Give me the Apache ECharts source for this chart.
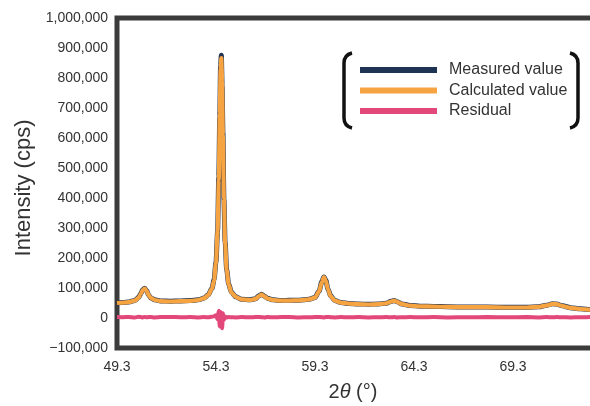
<!DOCTYPE html>
<html>
<head>
<meta charset="utf-8">
<script src="https://cdn.jsdelivr.net/npm/echarts@6/dist/echarts.min.js"></script>
<style>
  html, body { margin: 0; padding: 0; background: #ffffff; }
  #chart { width: 590px; height: 406px; }
</style>
</head>
<body>
<div id="chart"></div>
<script>
// ---- data ----
const seriesNames = ['Measured value', 'Calculated value', 'Residual'];
const xTicks = [49.3, 54.3, 59.3, 64.3, 69.3];

const twoTheta = [49.3,49.6,49.9,50.2,50.4,50.5,50.6,50.7,50.8,50.9,51.0,51.2,51.5,52.0,52.5,53.0,53.4,53.7,53.9,54.1,
  54.2,54.3,54.38,54.44,54.49,54.53,54.57,54.61,54.65,54.7,54.76,54.84,54.94,55.08,55.3,55.6,56.0,56.3,56.45,56.6,
  56.75,56.9,57.2,57.6,58.0,58.5,59.0,59.3,59.5,59.65,59.75,59.85,59.95,60.1,60.3,60.6,61.0,61.5,62.0,62.5,
  62.9,63.15,63.3,63.45,63.7,64.1,64.6,65.3,66.0,67.0,68.0,69.0,70.0,70.6,71.0,71.3,71.5,71.8,72.2,72.7,
  73.3,74.3];

const calculated = [50000,51000,53000,58000,68000,80000,93000,98000,90000,76000,67000,60000,56000,55000,56000,57000,60000,66000,76000,98000,
  125000,185000,290000,460000,680000,830000,866000,790000,610000,400000,250000,160000,112000,85000,70000,62000,60000,64000,72000,78000,
  72000,65000,60000,58000,58000,59000,62000,68000,88000,120000,136000,124000,96000,72000,58000,51000,48000,46000,45000,46000,
  49000,55000,58000,54000,46000,41000,39000,38000,37000,36000,36000,35000,35000,37000,42000,47000,46000,40000,34000,30000,
  28000,26000];

const measured = [51000,51500,53500,58500,69000,81000,94000,99000,90500,76500,67500,60500,57000,56000,57000,58000,60500,66500,76500,99000,
  127000,187000,288000,470000,670000,840000,876000,775000,618000,398000,252000,161000,113000,86000,70500,62500,60500,64500,73000,79000,
  72500,65500,60500,58500,59000,59500,62500,68500,89000,121000,137000,125000,97000,73000,58500,52000,48500,46500,46000,46500,
  49500,55500,58500,54500,46500,42000,39500,38500,37500,36500,36500,35500,35500,37500,42500,47500,46500,40500,34500,30500,
  28500,26500];

const residual = [3000,2500,3500,2000,4000,3000,2000,3500,2500,3000,3500,2000,3000,3500,2500,3000,2000,3000,2500,4000,
  6000,9000,-4000,24000,-28000,20000,12000,-34000,16000,-6000,5000,2000,3000,2500,2000,3000,2500,3000,3500,2500,
  2000,3000,2500,3000,3500,2000,2500,3000,3500,2500,2000,3000,3500,2500,2000,3000,2500,3000,2000,2500,
  3000,2500,3000,2000,2500,3000,2500,3000,2000,2500,3000,2500,3000,2000,3000,2500,3000,2500,2000,2500,
  3000,2500];

// ---- chart ----
const FONT = '"Liberation Sans", Arial, Helvetica, sans-serif';
const chart = echarts.init(document.getElementById('chart'), null, { renderer: 'canvas' });

function pairs(ys) { return twoTheta.map((x, i) => [x, ys[i]]); }
function fmtY(v) {
  const s = Math.abs(v).toLocaleString('en-US');
  return v < 0 ? '\u2212' + s : s;
}

const colors = ['#1f3352', '#f6a342', '#e2487a'];
const bracketStyle = { stroke: '#111111', lineWidth: 3.5, fill: null };

function bracket(xv, xe) {
  return [
    { type: 'line', shape: { x1: xv, y1: 63, x2: xv, y2: 118 }, style: bracketStyle },
    { type: 'bezierCurve', shape: { x1: xv, y1: 63, x2: xe, y2: 53, cpx1: xv, cpy1: 55 }, style: bracketStyle },
    { type: 'bezierCurve', shape: { x1: xv, y1: 118, x2: xe, y2: 128, cpx1: xv, cpy1: 126 }, style: bracketStyle }
  ];
}

chart.setOption({
  animation: false,
  backgroundColor: '#ffffff',
  textStyle: { fontFamily: FONT },
  grid: {
    left: 117, top: 18, width: 495, height: 330,
    outerBoundsMode: 'none',
    containLabel: false,
    show: true, borderColor: '#3b3b3b', borderWidth: 5, backgroundColor: 'transparent'
  },
  legend: {
    orient: 'vertical',
    left: 360, top: 62,
    padding: 0,
    itemWidth: 77, itemHeight: 6, itemGap: 4.5,
    icon: 'rect',
    textStyle: { fontSize: 16, color: '#333333', fontFamily: FONT, padding: [0, 0, 0, 7] },
    data: seriesNames
  },
  xAxis: {
    type: 'value',
    min: 49.3, max: 74.3,
    axisLine: { show: false },
    axisTick: { show: false },
    splitLine: { show: false },
    axisLabel: {
      customValues: xTicks,
      formatter: v => v.toFixed(1),
      fontSize: 14, color: '#333333', margin: 12, fontFamily: FONT
    }
  },
  yAxis: {
    type: 'value',
    min: -100000, max: 1000000, interval: 100000,
    axisLine: { show: false },
    axisTick: { show: false },
    splitLine: { show: false },
    axisLabel: { formatter: fmtY, fontSize: 14, color: '#333333', margin: 9, fontFamily: FONT },
    name: 'Intensity (cps)',
    nameLocation: 'middle',
    nameGap: 81,
    nameTextStyle: { fontSize: 22, color: '#333333', fontFamily: FONT, padding: [0, 10, 0, 0] }
  },
  graphic: [
    {
      type: 'text', x: 353, y: 392,
      style: {
        text: '2{i|θ} (°)',
        fontSize: 20, fill: '#333333', fontFamily: FONT,
        align: 'center', verticalAlign: 'middle',
        rich: { i: { fontStyle: 'italic', fontSize: 20, fill: '#333333', fontFamily: FONT } }
      }
    }
  ].concat(bracket(344, 352), bracket(578, 570)),
  series: [
    {
      name: seriesNames[0], type: 'line', data: pairs(measured),
      showSymbol: false, smooth: 0.3, smoothMonotone: 'x',
      lineStyle: { color: colors[0], width: 5 }, itemStyle: { color: colors[0] }, z: 2
    },
    {
      name: seriesNames[1], type: 'line', data: pairs(calculated),
      showSymbol: false, smooth: 0.3, smoothMonotone: 'x',
      lineStyle: { color: colors[1], width: 4.2 }, itemStyle: { color: colors[1] }, z: 3
    },
    {
      name: seriesNames[2], type: 'line', data: pairs(residual),
      showSymbol: false, smooth: 0.3, smoothMonotone: 'x',
      lineStyle: { color: colors[2], width: 4 }, itemStyle: { color: colors[2] }, z: 4
    }
  ]
});
</script>
</body>
</html>
